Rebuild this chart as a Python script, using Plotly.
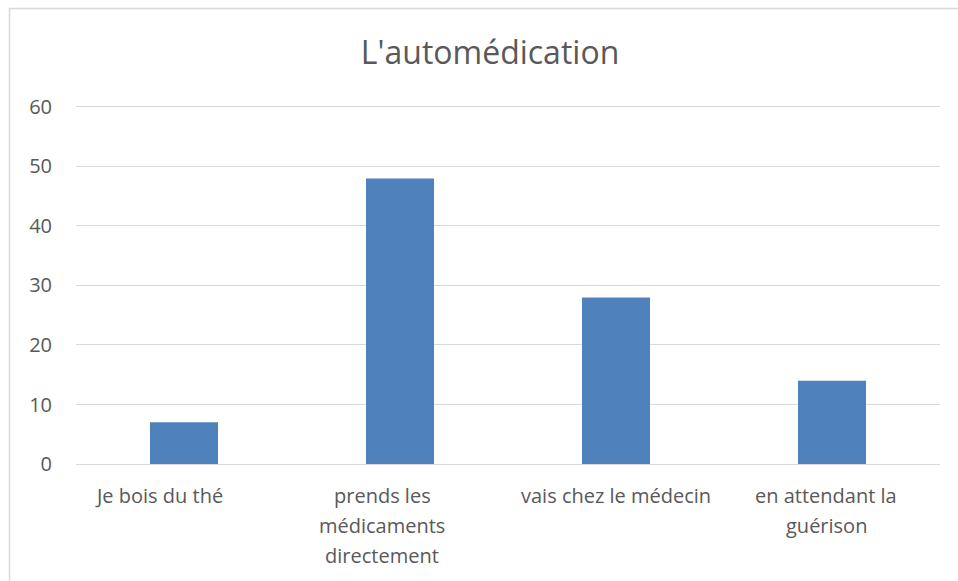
import plotly.graph_objects as go

# Survey answers and counts
categories = ["Je bois du thé", "prends les médicaments directement",
              "vais chez le médecin", "en attendant la guérison"]
label_lines = [["Je bois du thé"],
               ["prends les", "médicaments", "directement"],
               ["vais chez le médecin"],
               ["en attendant la", "guérison"]]
values = [7, 48, 28, 14]
y_ticks = [0, 10, 20, 30, 40, 50, 60]

W, H = 958, 581
Y_TOP = 60.5
ML, MR, MT, MB = 76, 17.5, 104, 117
PW, PH = W - ML - MR, H - MT - MB

FONT = "Open Sans"
TXT = "#595959"
GRID = "#d9d9d9"

# horizontal nudges of the wrapped category labels
label_shift = [-25, -18, 0, -6]

fig = go.Figure(go.Bar(
    x=categories, y=values,
    marker=dict(color="#4f81bd", line=dict(width=0)),
    width=0.315,
))

annotations = []
for cat, lines, dx in zip(categories, label_lines, label_shift):
    for i, line in enumerate(lines):
        annotations.append(dict(
            x=cat, xref="x", y=0, yref="paper",
            text=line, showarrow=False,
            xanchor="center", yanchor="middle",
            xshift=dx, yshift=-31 - 30 * i,
            font=dict(family=FONT, size=20, color=TXT),
        ))

# chart-area frame (runs off the right and bottom edges)
x0 = (9.5 - ML) / PW
y1 = (H - 8.5 - MB) / PH
fig.add_shape(type="rect", xref="paper", yref="paper",
              x0=x0, x1=(W + 20 - ML) / PW, y0=(-20 - MB) / PH, y1=y1,
              line=dict(color=GRID, width=1.5), layer="below")

fig.update_layout(
    width=W, height=H,
    margin=dict(l=ML, r=MR, t=MT, b=MB),
    paper_bgcolor="white", plot_bgcolor="white",
    showlegend=False,
    title=dict(text="L'automédication", x=490 / W, xanchor="center",
               y=1 - 53 / H, yanchor="middle",
               font=dict(family=FONT, size=32, color=TXT)),
    annotations=annotations,
    xaxis=dict(showticklabels=False, showgrid=False, showline=False,
               zeroline=False, ticks=""),
    yaxis=dict(range=[0, Y_TOP], tickvals=y_ticks, showgrid=True,
               gridcolor=GRID, gridwidth=1, zeroline=True,
               zerolinecolor=GRID, zerolinewidth=1, showline=False,
               ticks="", ticklabelstandoff=23,
               tickfont=dict(family=FONT, size=20, color=TXT)),
    bargap=0.685,
)

fig.write_html("out.html")
